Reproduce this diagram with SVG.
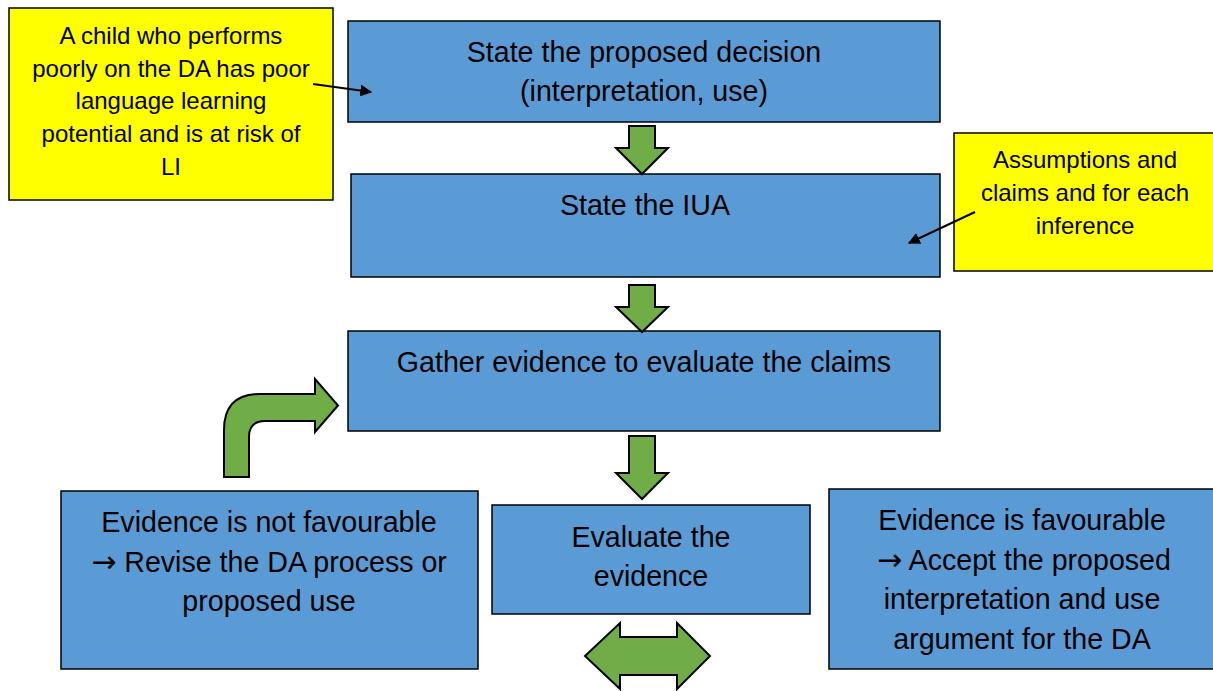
<svg xmlns="http://www.w3.org/2000/svg" width="1213" height="691" viewBox="0 0 1213 691">
  <defs>
    <style>
      .box { fill: #5B9BD5; stroke: #000; stroke-width: 1.5; }
      .note { fill: #FFFF00; stroke: #000; stroke-width: 1.5; }
      .flow { fill: #70AD47; stroke: #000; stroke-width: 2; stroke-linejoin: miter; }
      .pointer { stroke: #000; stroke-width: 2; fill: none; marker-end: url(#tip); }
      text { font-family: "Liberation Sans", Arial, sans-serif; fill: #000; text-anchor: middle; }
      .big { font-size: 28.6px; }
      .small { font-size: 24px; }
      .sym { font-family: "DejaVu Sans", sans-serif; }
    </style>
    <marker id="tip" viewBox="0 0 10 10" refX="9" refY="5" markerWidth="6" markerHeight="6" orient="auto" markerUnits="strokeWidth">
      <path d="M0,0 L10,5 L0,10 z" fill="#000"/>
    </marker>
  </defs>

  <g id="note-decision">
    <rect class="note" x="9" y="8" width="324" height="192"/>
    <text class="small" x="171" y="44">A child who performs</text>
    <text class="small" x="171" y="77">poorly on the DA has poor</text>
    <text class="small" x="171" y="109">language learning</text>
    <text class="small" x="171" y="142">potential and is at risk of</text>
    <text class="small" x="171" y="175">LI</text>
  </g>

  <g id="step-decision">
    <rect class="box" x="348" y="21" width="592" height="101"/>
    <text class="big" x="644" y="62">State the proposed decision</text>
    <text class="big" x="644" y="101">(interpretation, use)</text>
  </g>

  <g id="step-iua">
    <rect class="box" x="351" y="174" width="589" height="103"/>
    <text class="big" x="645" y="215">State the IUA</text>
  </g>

  <g id="note-iua">
    <rect class="note" x="954" y="133" width="265" height="138"/>
    <text class="small" x="1085" y="168">Assumptions and</text>
    <text class="small" x="1085" y="201">claims and for each</text>
    <text class="small" x="1085" y="234">inference</text>
  </g>

  <g id="step-gather">
    <rect class="box" x="348" y="331" width="592" height="100"/>
    <text class="big" x="644" y="372">Gather evidence to evaluate the claims</text>
  </g>

  <g id="step-evaluate">
    <rect class="box" x="492" y="505" width="318" height="109"/>
    <text class="big" x="651" y="547">Evaluate the</text>
    <text class="big" x="651" y="586">evidence</text>
  </g>

  <g id="outcome-revise">
    <rect class="box" x="61" y="491" width="417" height="178"/>
    <text class="big" x="269" y="532">Evidence is not favourable</text>
    <text class="big" x="269" y="572"><tspan class="sym" font-size="30">→</tspan> Revise the DA process or</text>
    <text class="big" x="269" y="611">proposed use</text>
  </g>

  <g id="outcome-accept">
    <rect class="box" x="829" y="489" width="392" height="180"/>
    <text class="big" x="1022" y="530">Evidence is favourable</text>
    <text class="big" x="1024" y="570"><tspan class="sym" font-size="30">→</tspan> Accept the proposed</text>
    <text class="big" x="1022" y="609">interpretation and use</text>
    <text class="big" x="1022" y="649">argument for the DA</text>
  </g>

  <g id="connectors">
    <!-- block arrows between steps -->
    <path class="flow" d="M629,126 H655 V148 H668 L642,174 L616,148 H629 Z"/>
    <path class="flow" d="M629,285 H655 V307 H668 L642,332 L616,307 H629 Z"/>
    <path class="flow" d="M629,436 H655 V473 H668 L642,499 L616,473 H629 Z"/>
    <!-- bent return arrow -->
    <path class="flow" d="M224,477 V430 Q224,394 260,394 H315 V379 L338,405.5 L315,432 V421 H265 Q249,421 249,437 V477 Z"/>
    <!-- two-way arrow -->
    <path class="flow" d="M585,656 L620,623 V637 H677 V623 L710,656 L677,689 V675 H620 V689 Z"/>
    <!-- note pointers -->
    <line class="pointer" x1="313" y1="84" x2="371" y2="92"/>
    <line class="pointer" x1="975" y1="212" x2="909" y2="243"/>
  </g>
</svg>
